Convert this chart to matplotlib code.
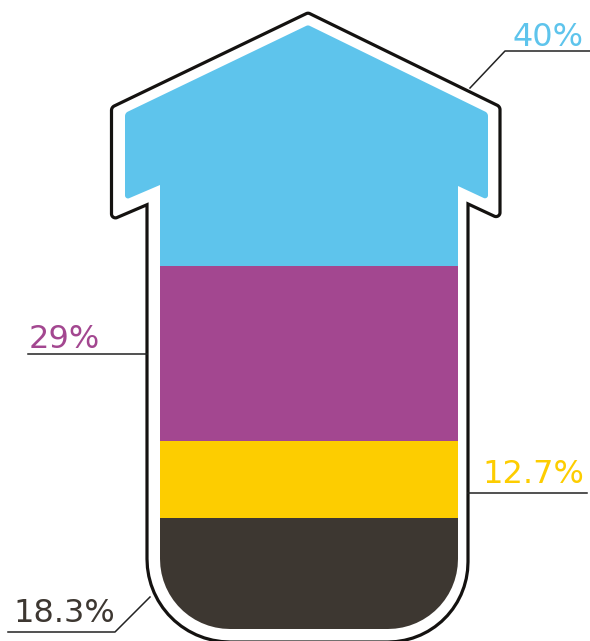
import matplotlib
matplotlib.use("Agg")
import matplotlib.pyplot as plt
import numpy as np
from matplotlib.path import Path
from matplotlib.patches import PathPatch
from matplotlib.transforms import Affine2D

# data, bottom to top
labels = ["18.3%", "12.7%", "29%", "40%"]
values = [18.3, 12.7, 29.0, 40.0]
colors = ["#3d3731", "#fdcd00", "#a34790", "#5ec4ec"]

W, H = 590, 641
fig = plt.figure(figsize=(W / 100, H / 100), dpi=100)
ax = fig.add_axes([0, 0, 1, 1])
ax.set_xlim(0, W)
# percent scale: 0% at pixel row 629, 100% at row 24 (6.05 px per %)
base, scale = 629, 6.05
ax.set_ylim((base - H) / scale, base / scale)
ax.axis("off")

# pixel coords (origin top-left) -> figure
px = Affine2D().scale(1 / W, -1 / H).translate(0, 1) + fig.transFigure


def offset(poly, dists):
    # move every edge outwards by its distance, then intersect neighbours
    poly = np.asarray(poly, float)
    n = len(poly)
    area = np.sum(poly[:, 0] * np.roll(poly[:, 1], -1) - np.roll(poly[:, 0], -1) * poly[:, 1])
    lines = []
    for i in range(n):
        a, b = poly[i], poly[(i + 1) % n]
        d = (b - a) / np.hypot(*(b - a))
        nrm = np.array([d[1], -d[0]]) if area > 0 else np.array([-d[1], d[0]])
        lines.append((a + nrm * dists[i], d))
    out = []
    for i in range(n):
        p1, d1 = lines[i - 1]
        p2, d2 = lines[i]
        m = np.array([d1, -d2]).T
        s = np.linalg.solve(m, p2 - p1)
        out.append(p1 + d1 * s[0])
    return np.array(out)


def fillet(poly, radii, steps=16):
    poly = np.asarray(poly, float)
    n = len(poly)
    out = []
    for i in range(n):
        p, r = poly[i], radii[i]
        if r <= 0:
            out.append(p)
            continue
        u = poly[i - 1] - p
        v = poly[(i + 1) % n] - p
        u /= np.hypot(*u)
        v /= np.hypot(*v)
        half = np.arccos(np.clip(np.dot(u, v), -1, 1)) / 2
        t1 = p + u * r / np.tan(half)
        t2 = p + v * r / np.tan(half)
        bis = (u + v) / np.hypot(*(u + v))
        c = p + bis * r / np.sin(half)
        a1 = np.arctan2(*(t1 - c)[::-1])
        a2 = np.arctan2(*(t2 - c)[::-1])
        da = (a2 - a1 + np.pi) % (2 * np.pi) - np.pi
        for a in a1 + da * np.linspace(0, 1, steps):
            out.append(c + r * np.array([np.cos(a), np.sin(a)]))
    return np.array(out)


# inner edge of the coloured arrow, pixel coords
inner = [(160, 185), (160, 629), (458, 629), (458, 186), (488, 200),
         (488, 113), (308, 25), (125, 113), (125, 200)]
inner_r = [0, 70, 70, 0, 3, 5, 4, 5, 3]
gap = [13, 13, 10, 12, 12, 11, 11, 13.5, 13]
outer_r = [0, 83, 80, 0, 4, 5, 4, 5, 4]

inner_pts = fillet(inner, inner_r)
outer_pts = fillet(offset(inner, gap), outer_r)

clip = PathPatch(Path(inner_pts, closed=True), transform=px,
                 facecolor="none", edgecolor="none")
ax.add_patch(clip)
ax.add_patch(PathPatch(Path(outer_pts, closed=True), transform=px,
                       facecolor="none", edgecolor="#141210", lw=2.3, zorder=2))

# stacked segments, clipped to the arrow
bottom_val = 0
for v, c in zip(values, colors):
    bars = ax.bar(306, v, bottom=bottom_val, width=380, color=c, zorder=3)
    for b in bars:
        b.set_clip_path(clip)
    bottom_val += v

# labels and leader lines (pixel coords)
lw_lead = 1.1
txt = dict(transform=px, fontsize=23, va="baseline", family="DejaVu Sans")

ax.text(584, 46, labels[3], color=colors[3], ha="right", **txt)
ax.plot([590, 505, 470], [51, 51, 88], transform=px, color="#222222", lw=lw_lead)

ax.text(29, 348, labels[2], color=colors[2], ha="left", **txt)
ax.plot([28, 147], [354, 354], transform=px, color="#222222", lw=lw_lead)

ax.text(584, 483, labels[1], color=colors[1], ha="right", **txt)
ax.plot([468, 587], [493, 493], transform=px, color="#222222", lw=lw_lead)

ax.text(13, 622, labels[0], color=colors[0], ha="left", **txt)
ax.plot([8, 115, 150], [632, 632, 597], transform=px, color="#222222", lw=lw_lead)

fig.savefig("out.png", dpi=100)
